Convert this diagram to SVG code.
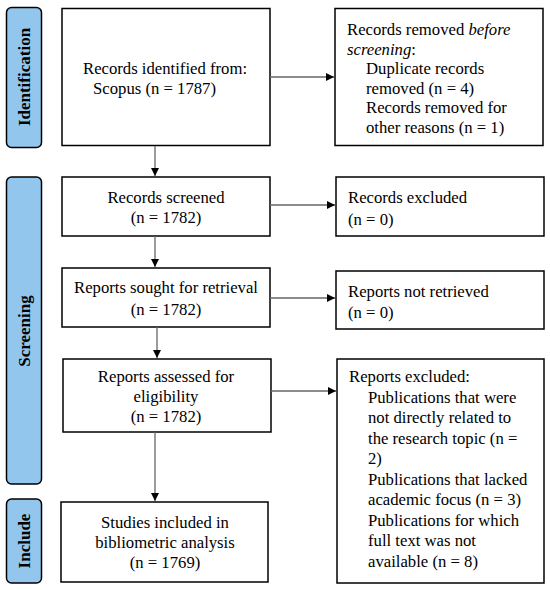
<svg xmlns="http://www.w3.org/2000/svg" width="550" height="590" viewBox="0 0 550 590">
<defs>
<marker id="ah" markerWidth="8" markerHeight="8" refX="8" refY="4" orient="auto" markerUnits="userSpaceOnUse">
<path d="M0,0 L8,4 L0,8 Z" fill="#000"/>
</marker>
<style>
.box{fill:#fff;stroke:#000;stroke-width:1.5}
.bar{fill:#92c6ec;stroke:#000;stroke-width:1.5}
.t{font-size:16.7px;fill:#000}
.c{text-anchor:middle}
.lab{font-size:17px;font-weight:bold;fill:#000;text-anchor:middle}
.ln{stroke:#666;stroke-width:1.3;fill:none;marker-end:url(#ah)}
</style>
</defs>
<rect width="550" height="590" fill="#fff"/>
<g font-family="Liberation Serif, Times New Roman, serif">
<g id="bar-identification">
<rect class="bar" x="6.5" y="7.5" width="35" height="140" rx="5"/>
<text class="lab" transform="translate(30,77) rotate(-90)">Identification</text>
</g>
<g id="bar-screening">
<rect class="bar" x="6.5" y="177" width="35" height="307" rx="5"/>
<text class="lab" transform="translate(30,331) rotate(-90)">Screening</text>
</g>
<g id="bar-include">
<rect class="bar" x="6.5" y="499" width="35" height="84" rx="5"/>
<text class="lab" transform="translate(30,541) rotate(-90)">Include</text>
</g>
<g id="identified">
<rect class="box" x="62" y="8.5" width="208" height="137"/>
<text class="t" x="83" y="74">Records identified from:</text>
<text class="t" x="93" y="94">Scopus (n = 1787)</text>
</g>
<g id="removed">
<rect class="box" x="335" y="8.5" width="208" height="137"/>
<text class="t" x="347" y="35">Records removed <tspan font-style="italic">before</tspan></text>
<text class="t" x="347" y="55"><tspan font-style="italic">screening</tspan>:</text>
<text class="t" x="366" y="74">Duplicate records</text>
<text class="t" x="366" y="94">removed (n = 4)</text>
<text class="t" x="366" y="113">Records removed for</text>
<text class="t" x="366" y="133">other reasons (n = 1)</text>
</g>
<g id="screened">
<rect class="box" x="62" y="177" width="208" height="59"/>
<text class="t c" x="166" y="203">Records screened</text>
<text class="t c" x="166" y="223">(n = 1782)</text>
</g>
<g id="excluded">
<rect class="box" x="336" y="177" width="208" height="59"/>
<text class="t" x="348" y="203">Records excluded</text>
<text class="t" x="348" y="225">(n = 0)</text>
</g>
<g id="sought">
<rect class="box" x="62" y="268" width="208" height="59"/>
<text class="t c" x="166" y="293">Reports sought for retrieval</text>
<text class="t c" x="166" y="315">(n = 1782)</text>
</g>
<g id="notretrieved">
<rect class="box" x="336" y="271" width="208" height="58"/>
<text class="t" x="348" y="297">Reports not retrieved</text>
<text class="t" x="348" y="318">(n = 0)</text>
</g>
<g id="assessed">
<rect class="box" x="63" y="359" width="208" height="73"/>
<text class="t c" x="166" y="382">Reports assessed for</text>
<text class="t c" x="166" y="402">eligibility</text>
<text class="t c" x="166" y="422">(n = 1782)</text>
</g>
<g id="reportsexcluded">
<rect class="box" x="337" y="359" width="207" height="224"/>
<text class="t" x="349" y="382">Reports excluded:</text>
<text class="t" x="368" y="402.5">Publications that were</text>
<text class="t" x="368" y="423">not directly related to</text>
<text class="t" x="368" y="443.5">the research topic (n =</text>
<text class="t" x="368" y="464">2)</text>
<text class="t" x="368" y="484.5">Publications that lacked</text>
<text class="t" x="368" y="505">academic focus (n = 3)</text>
<text class="t" x="368" y="525.5">Publications for which</text>
<text class="t" x="368" y="546">full text was not</text>
<text class="t" x="368" y="566.5">available (n = 8)</text>
</g>
<g id="included">
<rect class="box" x="61" y="502" width="207" height="80"/>
<text class="t c" x="165" y="528">Studies included in</text>
<text class="t c" x="165" y="548">bibliometric analysis</text>
<text class="t c" x="165" y="568">(n = 1769)</text>
</g>
</g>
<g id="connectors">
<line class="ln" x1="270" y1="77" x2="334" y2="77"/>
<line class="ln" x1="155" y1="146" x2="155" y2="176"/>
<line class="ln" x1="270" y1="205" x2="335" y2="205"/>
<line class="ln" x1="155" y1="236" x2="155" y2="267"/>
<line class="ln" x1="270" y1="298" x2="335" y2="298"/>
<line class="ln" x1="157" y1="327" x2="157" y2="358"/>
<line class="ln" x1="271" y1="391" x2="336" y2="391"/>
<line class="ln" x1="155" y1="432" x2="155" y2="501"/>
</g>
</svg>
